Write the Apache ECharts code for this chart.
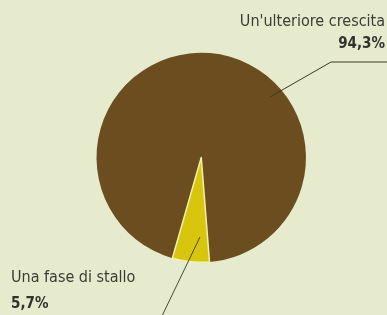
<!DOCTYPE html>
<html>
<head>
<meta charset="utf-8">
<script src="https://cdn.jsdelivr.net/npm/echarts@6/dist/echarts.min.js"></script>
<style>
  html, body { margin: 0; padding: 0; background: #e5ebcc; }
  #chart { width: 387px; height: 315px; }
</style>
</head>
<body>
<div id="chart"></div>
<script>
// dati
const categories = ["Un'ulteriore crescita", 'Una fase di stallo']
const values = [94.3, 5.7]
const colors = ['#6b4d20', '#d8c50e']

const font = '"DejaVu Sans Condensed", "Liberation Sans Narrow", sans-serif'
const textColor = '#3b3b38'

// stile testo delle etichette, con interlinea diversa per le due
const richFor = lh => ({
  n: { fontSize: 16, fontFamily: font, color: textColor, lineHeight: lh },
  v: { fontSize: 15, fontWeight: 'bold', fontFamily: font, color: '#323230', lineHeight: lh }
})
const labelLH = [23, 27]

const chart = echarts.init(document.getElementById('chart'))

chart.setOption({
  backgroundColor: '#e5ebcc',
  animation: false,
  series: [
    {
      type: 'pie',
      center: ['52%', '50%'],
      radius: '66.5%',
      startAngle: 254,
      clockwise: true,
      emphasis: { disabled: true },
      data: categories.map((name, i) => ({
        name: name,
        value: values[i],
        itemStyle: {
          color: colors[i],
          borderColor: i === 1 ? '#f4f0a8' : colors[i],
          borderWidth: i === 1 ? 1.5 : 0
        },
        label: { rich: richFor(labelLH[i]) }
      })),
      label: {
        show: true,
        position: 'outside',
        overflow: 'none',
        fontFamily: font,
        color: textColor,
        formatter: p => '{n|' + p.name + '}\n{v|' + p.value.toFixed(1).replace('.', ',') + '%}',
        rich: richFor(25)
      },
      labelLine: { show: false },
      labelLayout: function (params) {
        if (params.dataIndex === 0) {
          return { x: 385, y: 10, align: 'right', verticalAlign: 'top' }
        }
        return { x: 11, y: 264, align: 'left', verticalAlign: 'top' }
      }
    }
  ],
  // linee di richiamo delle etichette, sopra gli spicchi
  graphic: [
    {
      type: 'polyline',
      silent: true,
      z: 100,
      shape: { points: [[270, 97], [331, 62], [387, 62]] },
      style: { stroke: '#3e3a22', lineWidth: 1, fill: null }
    },
    {
      type: 'polyline',
      silent: true,
      z: 100,
      shape: { points: [[200, 237], [162, 316]] },
      style: { stroke: '#4a4a2c', lineWidth: 1, fill: null }
    }
  ]
})
</script>
</body>
</html>
